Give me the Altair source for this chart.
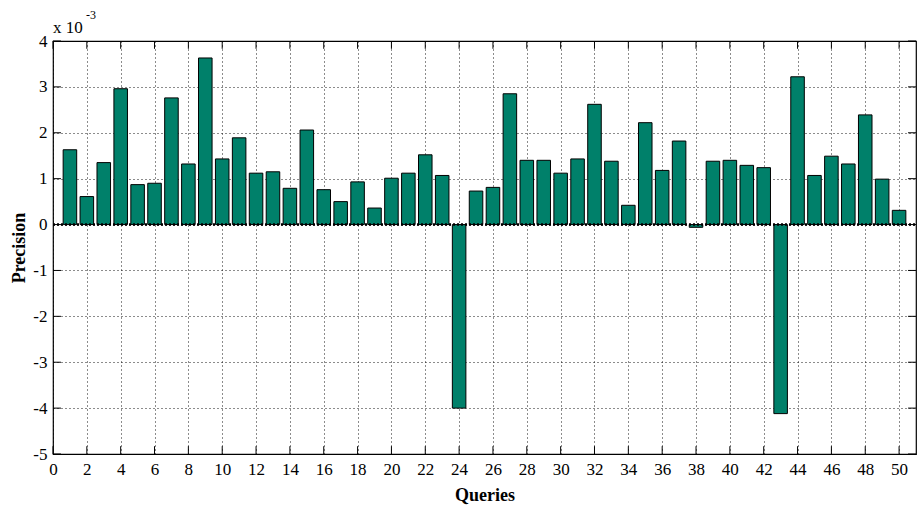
import altair as alt
import pandas as pd

# Data (precision in units of 1e-3)
queries = list(range(1, 51))
precision_e3 = [1.63, 0.61, 1.35, 2.96, 0.87, 0.90, 2.76, 1.32, 3.63, 1.43,
                1.89, 1.12, 1.15, 0.79, 2.06, 0.76, 0.50, 0.93, 0.36, 1.01,
                1.12, 1.52, 1.07, -4.00, 0.73, 0.81, 2.85, 1.40, 1.40, 1.12,
                1.43, 2.62, 1.38, 0.42, 2.22, 1.18, 1.82, -0.06, 1.38, 1.40,
                1.29, 1.24, -4.12, 3.22, 1.07, 1.49, 1.32, 2.39, 0.99, 0.31]
x_ticks = list(range(0, 51, 2))
y_ticks = list(range(-5, 5))

FONT = "Liberation Serif"
TEAL = "#00806A"

df = pd.DataFrame({"Query": queries, "Precision": precision_e3})

xs = alt.Scale(domain=[0, 51], nice=False, zero=False)
ys = alt.Scale(domain=[-5, 4], nice=False, zero=False)

xaxis = alt.Axis(values=x_ticks, title="Queries", grid=True, ticks=False,
                 labelFontSize=17, titleFontSize=18, labelPadding=7,
                 titlePadding=9, labelFlush=False, labelOverlap=False,
                 domain=False, labelExpr="'' + datum.value")
yaxis = alt.Axis(values=y_ticks, title="Precision", grid=True, ticks=False,
                 labelFontSize=17, titleFontSize=18, labelPadding=6,
                 titlePadding=4, domain=False, labelOverlap=False,
                 labelExpr="'' + datum.value")

bars = alt.Chart(df).transform_calculate(
    x1="datum.Query - 0.4", x2="datum.Query + 0.4"
).mark_bar(color=TEAL, stroke="black", strokeWidth=1).encode(
    x=alt.X("x1:Q", scale=xs, axis=xaxis, title="Queries"),
    x2="x2:Q",
    y=alt.Y("Precision:Q", scale=ys, axis=yaxis, title="Precision"),
    y2=alt.datum(0),
)

zero_line = alt.Chart(pd.DataFrame({"z": [0]})).mark_rule(
    color="black", strokeWidth=2.5, strokeDash=[2, 2]
).encode(y=alt.Y("z:Q", scale=ys, axis=yaxis, title="Precision"),
         x=alt.X(datum=0, scale=xs, axis=xaxis, title="Queries"),
         x2=alt.datum(51))

xt = pd.DataFrame({"t": x_ticks})
yt = pd.DataFrame({"t": y_ticks})
tick_bottom = alt.Chart(xt).mark_rule(color="black").encode(
    x=alt.X("t:Q", scale=xs, axis=xaxis, title="Queries"),
    y=alt.Y(datum=-5, scale=ys, axis=yaxis, title="Precision"),
    y2=alt.datum(-4.83))
tick_top = alt.Chart(xt).mark_rule(color="black").encode(
    x=alt.X("t:Q", scale=xs, axis=xaxis, title="Queries"),
    y=alt.Y(datum=4, scale=ys, axis=yaxis, title="Precision"),
    y2=alt.datum(3.83))
tick_left = alt.Chart(yt).mark_rule(color="black").encode(
    y=alt.Y("t:Q", scale=ys, axis=yaxis, title="Precision"),
    x=alt.X(datum=0, scale=xs, axis=xaxis, title="Queries"),
    x2=alt.datum(0.47))
tick_right = alt.Chart(yt).mark_rule(color="black").encode(
    y=alt.Y("t:Q", scale=ys, axis=yaxis, title="Precision"),
    x=alt.X(datum=51, scale=xs, axis=xaxis, title="Queries"),
    x2=alt.datum(50.53))

one = pd.DataFrame({"a": [0]})
exp_base = alt.Chart(one).mark_text(
    text="x 10", font=FONT, fontSize=17, align="left", baseline="alphabetic",
    color="black").encode(x=alt.value(0), y=alt.value(-8))
exp_sup = alt.Chart(one).mark_text(
    text="-3", font=FONT, fontSize=12, align="left", baseline="alphabetic",
    color="black").encode(x=alt.value(33), y=alt.value(-22))

chart = alt.layer(
    bars, zero_line, tick_bottom, tick_top, tick_left, tick_right,
    exp_base, exp_sup
).properties(
    width=863, height=413,
    autosize=alt.AutoSizeParams(type="none"),
    padding={"left": 53, "top": 41, "right": 4, "bottom": 52},
    background="white",
).configure_view(
    stroke="black", strokeWidth=1.2
).configure_axis(
    labelFont=FONT, titleFont=FONT, labelColor="black", titleColor="black",
    gridColor="black", gridDash=[1, 3], gridOpacity=0.9, gridWidth=1,
    titleFontWeight="bold"
)

chart.save("out.html", embed_options={"renderer": "svg", "actions": False})
